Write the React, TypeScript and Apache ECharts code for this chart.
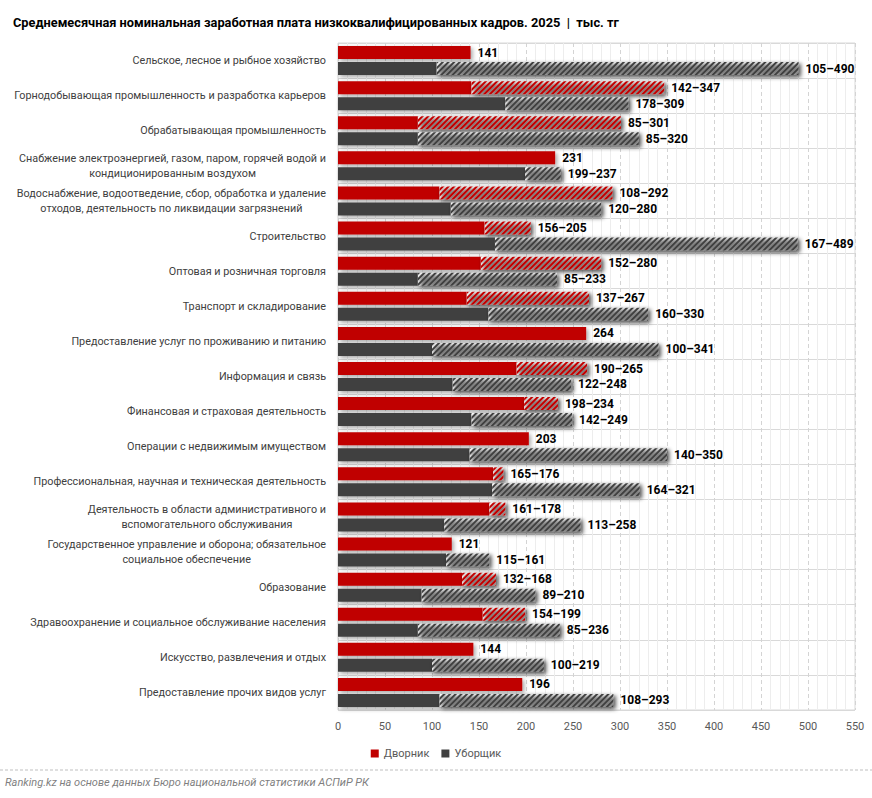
import React, { useEffect, useRef } from "react";
import * as echarts from "echarts";

// Отрасли (сверху вниз)
const categories = [
  "Сельское, лесное и рыбное хозяйство",
  "Горнодобывающая промышленность и разработка карьеров",
  "Обрабатывающая промышленность",
  "Снабжение электроэнергией, газом, паром, горячей водой и\nкондиционированным воздухом",
  "Водоснабжение, водоотведение, сбор, обработка и удаление\nотходов, деятельность по ликвидации загрязнений",
  "Строительство",
  "Оптовая и розничная торговля",
  "Транспорт и складирование",
  "Предоставление услуг по проживанию и питанию",
  "Информация и связь",
  "Финансовая и страховая деятельность",
  "Операции с недвижимым имуществом",
  "Профессиональная, научная и техническая деятельность",
  "Деятельность в области административного и\nвспомогательного обслуживания",
  "Государственное управление и оборона; обязательное\nсоциальное обеспечение",
  "Образование",
  "Здравоохранение и социальное обслуживание населения",
  "Искусство, развлечения и отдых",
  "Предоставление прочих видов услуг",
];

// Дворник: нижняя и верхняя граница, тыс. тг
const janitorMin = [141, 142, 85, 231, 108, 156, 152, 137, 264, 190, 198, 203, 165, 161, 121, 132, 154, 144, 196];
const janitorMax = [141, 347, 301, 231, 292, 205, 280, 267, 264, 265, 234, 203, 176, 178, 121, 168, 199, 144, 196];

// Уборщик: нижняя и верхняя граница, тыс. тг
const cleanerMin = [105, 178, 85, 199, 120, 167, 85, 160, 100, 122, 142, 140, 164, 113, 115, 89, 85, 100, 108];
const cleanerMax = [490, 309, 320, 237, 280, 489, 233, 330, 341, 248, 249, 350, 321, 258, 161, 210, 236, 219, 293];

// Шкала оси X
const axisMin = 0;
const axisMax = 550;
const axisStep = 50;

const RED = "#c00000";
const DARK = "#404040";
const FONT = "Roboto, 'Noto Sans', sans-serif";

const shadow = {
  shadowBlur: 4,
  shadowColor: "rgba(0,0,0,0.35)",
  shadowOffsetX: 2,
  shadowOffsetY: 2,
};

const valueLabel = {
  position: "right" as const,
  distance: 7,
  color: "#000",
  fontWeight: "bold" as const,
  fontSize: 12,
  fontFamily: FONT,
};

function makeSeries(name: string, stack: string, mins: number[], maxs: number[], color: string) {
  const base = {
    name,
    type: "bar",
    stack,
    barWidth: 13,
    barGap: "23%",
    itemStyle: { color, ...shadow },
    label: { ...valueLabel, formatter: (p: any) => String(maxs[p.dataIndex]) },
    data: mins.map((v, i) => ({ value: v, label: { show: maxs[i] === v } })),
  };
  const range = {
    name: name + " (диапазон)",
    type: "bar",
    stack,
    barWidth: 13,
    barGap: "23%",
    itemStyle: {
      color: "#ffffff",
      ...shadow,
      decal: {
        symbol: "rect",
        symbolSize: 1,
        color,
        dashArrayX: [1, 0],
        dashArrayY: [1.5, 1.5],
        rotation: -Math.PI / 4,
      },
    },
    label: {
      ...valueLabel,
      formatter: (p: any) => `${mins[p.dataIndex]}–${maxs[p.dataIndex]}`,
    },
    data: maxs.map((m, i) => ({ value: m - mins[i], label: { show: m > mins[i] } })),
  };
  return [base, range];
}

export default function App() {
  const ref = useRef<HTMLDivElement>(null);

  useEffect(() => {
    if (!ref.current) return;
    const chart = echarts.init(ref.current, undefined, { renderer: "svg" });
    chart.setOption({
      animation: false,
      backgroundColor: "#ffffff",
      textStyle: { fontFamily: FONT },
      title: {
        left: 8,
        top: 11,
        text: "{b|Среднемесячная номинальная заработная плата низкоквалифицированных кадров. 2025}{r|  |  тыс. тг}",
        textStyle: {
          rich: {
            b: { fontFamily: FONT, fontWeight: "bold", fontSize: 12.8, color: "#000" },
            r: { fontFamily: FONT, fontSize: 12.8, color: "#000" },
          },
        },
      },
      legend: {
        top: 743,
        left: "center",
        icon: "rect",
        itemWidth: 8,
        itemHeight: 8,
        itemGap: 12,
        data: ["Дворник", "Уборщик"],
        textStyle: { color: "#595959", fontSize: 11, fontFamily: FONT },
      },
      grid: {
        left: 338,
        right: 17,
        top: 43,
        bottom: 88,
        show: true,
        borderColor: "#d9d9d9",
        borderWidth: 1,
      },
      xAxis: {
        type: "value",
        min: axisMin,
        max: axisMax,
        interval: axisStep,
        axisLine: { show: false },
        axisTick: { show: false },
        axisLabel: { color: "#595959", fontSize: 11, margin: 11 },
        splitLine: { lineStyle: { color: "#d4d4d4", type: [4, 3] } },
        minorTick: { show: false, splitNumber: 5 },
        minorSplitLine: { show: true, lineStyle: { color: "#ededed" } },
      },
      yAxis: {
        type: "category",
        inverse: true,
        data: categories,
        axisLine: { show: false },
        axisTick: { show: false },
        splitLine: { show: true, lineStyle: { color: "#d9d9d9" } },
        axisLabel: {
          margin: 12,
          color: "#404040",
          fontSize: 10.8,
          lineHeight: 15,
          formatter: (v: string) =>
            v
              .split("\n")
              .map((l) => `{c|${l}}`)
              .join("\n"),
          rich: {
            c: { align: "center", color: "#404040", fontSize: 10.8, lineHeight: 15, fontFamily: FONT },
          },
        },
      },
      graphic: [
        {
          type: "line",
          shape: { x1: 0, y1: 770, x2: 872, y2: 770 },
          style: { stroke: "#bfbfbf", lineWidth: 1, lineDash: [3, 2] },
        },
        {
          type: "text",
          left: 5,
          top: 777,
          style: {
            text: "Ranking.kz на основе данных Бюро национальной статистики АСПиР РК",
            fontFamily: FONT,
            fontStyle: "italic",
            fontSize: 11,
            fill: "#7f7f7f",
          },
        },
      ],
      series: [
        ...makeSeries("Дворник", "d", janitorMin, janitorMax, RED),
        ...makeSeries("Уборщик", "u", cleanerMin, cleanerMax, DARK),
      ],
    });
    return () => chart.dispose();
  }, []);

  return (
    <div
      ref={ref}
      style={{ position: "absolute", left: 0, top: 0, width: 872, height: 798 }}
    />
  );
}
